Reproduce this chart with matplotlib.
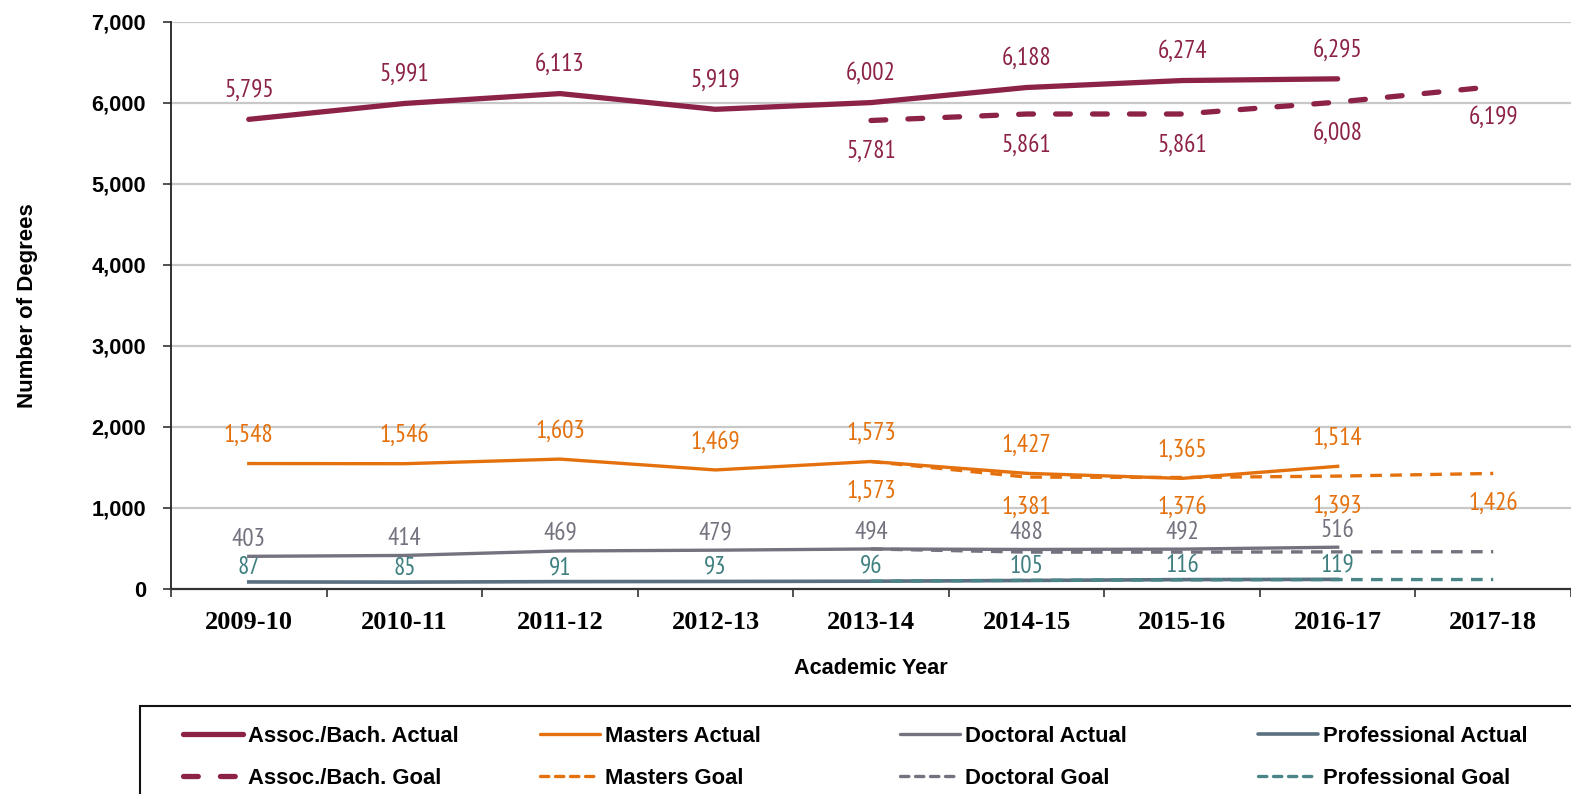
import matplotlib
matplotlib.use("Agg")
import matplotlib.pyplot as plt
from matplotlib import font_manager
from matplotlib.patches import Rectangle
from matplotlib.lines import Line2D

years = ["2009-10", "2010-11", "2011-12", "2012-13", "2013-14",
         "2014-15", "2015-16", "2016-17", "2017-18"]
assoc_actual = [5795, 5991, 6113, 5919, 6002, 6188, 6274, 6295]
assoc_goal = [5781, 5861, 5861, 6008, 6199]
masters_actual = [1548, 1546, 1603, 1469, 1573, 1427, 1365, 1514]
masters_goal = [1573, 1381, 1376, 1393, 1426]
doctoral_actual = [403, 414, 469, 479, 494, 488, 492, 516]
doctoral_goal = [494, 455, 455, 458, 460]
prof_actual = [87, 85, 91, 93, 96, 105, 116, 119]
prof_goal = [96, 107, 113, 116, 117]
goal_start = 4

avail = {f.name for f in font_manager.fontManager.ttflist}
narrow = "Liberation Sans"
for cand in ["Liberation Sans Narrow", "Arial Narrow", "PT Sans Narrow", "Archivo Narrow",
             "Roboto Condensed", "IBM Plex Sans Condensed"]:
    if cand in avail:
        narrow = cand
        break
serif = "Liberation Serif"
NF = [narrow, "DejaVu Sans"]
SF = ["Liberation Sans", "DejaVu Sans"]

C_ASSOC = "#8c2247"
C_MAST = "#e4710d"
C_DOC = "#74727e"
C_PROF = "#5a6f80"
C_PROFG = "#4a8687"
C_PROFT = "#3f7f80"

ASSOC_DASH = (2.8, 4.2)
SMALL_DASH = (3.5, 2.5)

fig = plt.figure(figsize=(15.71, 7.94), dpi=100)
W, H = 1571, 794
ax = fig.add_axes([171 / W, 1 - 589 / H, (W - 171) / W, (589 - 21.7) / H])

xa = list(range(len(assoc_actual)))
xg = list(range(goal_start, goal_start + len(assoc_goal)))

ax.plot(xa, assoc_actual, color=C_ASSOC, lw=3.8, solid_capstyle="round", zorder=5)
ax.plot(xg, assoc_goal, color=C_ASSOC, lw=3.8, dashes=ASSOC_DASH, dash_capstyle="round", zorder=6)
ax.plot(xa, masters_actual, color=C_MAST, lw=2.4, zorder=5)
ax.plot(xg, masters_goal, color=C_MAST, lw=2.4, dashes=SMALL_DASH, zorder=6)
ax.plot(xa, doctoral_actual, color=C_DOC, lw=2.4, zorder=5)
ax.plot(xg, doctoral_goal, color=C_DOC, lw=2.4, dashes=SMALL_DASH, zorder=6)
ax.plot(xa, prof_actual, color=C_PROF, lw=2.6, zorder=5)
ax.plot(xg, prof_goal, color=C_PROFG, lw=2.4, dashes=SMALL_DASH, zorder=6)

lab_kw = dict(textcoords="offset pixels", ha="center", va="center",
              fontsize=18, family=NF)

def label(xs, ys, color, dy):
    for x, y in zip(xs, ys):
        ax.annotate(f"{y:,}", (x, y), xytext=(0, dy), color=color, **lab_kw)

label(xa, assoc_actual, C_ASSOC, 29)
label(xg, assoc_goal, C_ASSOC, -31)
label(xa, masters_actual, C_MAST, 28)
label(xg, masters_goal, C_MAST, -30)
label(xa, doctoral_actual, C_DOC, 17)
label(xa, prof_actual, C_PROFT, 14)

ax.set_xlim(-0.5, len(years) - 0.5)
ax.set_ylim(0, 7000)
ax.set_yticks(range(0, 7001, 1000))
ax.set_yticklabels([f"{v:,}" for v in range(0, 7001, 1000)],
                   fontsize=15.7, fontweight="bold", family=SF)
ax.set_xticks(range(len(years)))
ax.set_xticklabels(years, fontsize=19, fontweight="bold", family=serif)
ax.set_xticks([i + 0.5 for i in range(-1, len(years))], minor=True)
ax.tick_params(axis="x", which="major", length=0, pad=16)
ax.tick_params(axis="x", which="minor", length=6, width=1.2, direction="out", color="#333333")
ax.tick_params(axis="y", length=6, width=1.2, pad=12, color="#333333")

for v in range(1000, 7001, 1000):
    ax.axhline(v, color="#c8c8c8", lw=1.6, zorder=1)

for s in ["top", "right"]:
    ax.spines[s].set_visible(False)
ax.spines["left"].set_color("#222222")
ax.spines["bottom"].set_color("#333333")
ax.spines["left"].set_linewidth(1.3)
ax.spines["bottom"].set_linewidth(1.6)

ax.set_ylabel("Number of Degrees", fontsize=16, fontweight="bold", family=SF)
ax.yaxis.set_label_coords(-0.095, 0.5)
ax.set_xlabel("Academic Year", fontsize=15.6, fontweight="bold", family=SF)
ax.xaxis.set_label_coords(0.5, -0.121)

# legend frame
fig.patches.append(Rectangle((140 / W, -0.01), (W - 140) / W + 0.01, 1 - 706 / H + 0.01,
                             transform=fig.transFigure, fill=False, edgecolor="#111111",
                             lw=1.5, zorder=0))

cols = [
    (183, [("Assoc./Bach. Actual", C_ASSOC, 3.8, None), ("Assoc./Bach. Goal", C_ASSOC, 3.8, ASSOC_DASH)]),
    (540, [("Masters Actual", C_MAST, 2.4, None), ("Masters Goal", C_MAST, 2.4, (2.5, 2.0))]),
    (900, [("Doctoral Actual", C_DOC, 2.4, None), ("Doctoral Goal", C_DOC, 2.4, (2.5, 2.0))]),
    (1258, [("Professional Actual", C_PROF, 2.6, None), ("Professional Goal", C_PROFG, 2.4, (2.5, 2.0))]),
]
for xpix, items in cols:
    handles = []
    for name, c, lw, d in items:
        h = Line2D([], [], color=c, lw=lw, solid_capstyle="round", dash_capstyle="round")
        if d is not None:
            h.set_dashes(d)
        handles.append(h)
    fig.legend(handles, [i[0] for i in items], loc="upper left",
               bbox_to_anchor=(xpix / W, 1 - 726 / H), frameon=False,
               handlelength=2.74, handletextpad=0.23, borderpad=0, borderaxespad=0,
               labelspacing=0.94,
               prop=dict(family=SF, weight="bold", size=15.8))

fig.savefig("out.png", dpi=100)
